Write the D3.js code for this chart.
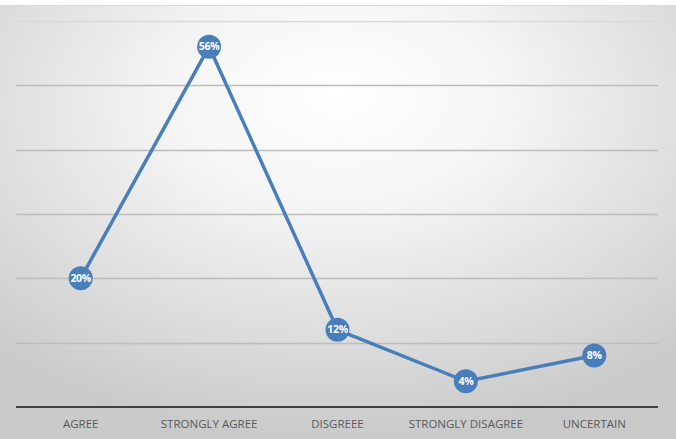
<!DOCTYPE html>
<html><head><meta charset="utf-8">
<script src="https://cdn.jsdelivr.net/npm/d3@7"></script>
<style>body{margin:0;background:#fff}svg{display:block}</style>
</head><body>
<script>
const categories = ["AGREE","STRONGLY AGREE","DISGREEE","STRONGLY DISAGREE","UNCERTAIN"];
const values = [20,56,12,4,8];
const yTicks = [0,10,20,30,40,50,60];

const W=676,H=439;
const svg=d3.select("body").append("svg").attr("width",W).attr("height",H);
const defs=svg.append("defs");
const g=defs.append("radialGradient").attr("id","bg").attr("cx","50%").attr("cy","25%").attr("r","75%")
  .attr("fx","50%").attr("fy","20%");
g.append("stop").attr("offset","0%").attr("stop-color","#ffffff");
g.append("stop").attr("offset","35%").attr("stop-color","#f4f4f4");
g.append("stop").attr("offset","100%").attr("stop-color","#cacaca");
svg.append("rect").attr("x",0).attr("y",5).attr("width",W).attr("height",H-5).attr("fill","url(#bg)");
svg.append("line").attr("x1",0).attr("x2",W).attr("y1",5.5).attr("y2",5.5).attr("stroke","#d9d9d9");

const x=d3.scaleBand().domain(categories).range([16.5,658.5]);
const y=d3.scaleLinear().domain([0,60]).range([407,21]);

svg.append("g").selectAll("line").data(yTicks.slice(1)).join("line")
  .attr("x1",16).attr("x2",658).attr("y1",d=>Math.round(y(d))+0.5).attr("y2",d=>Math.round(y(d))+0.5)
  .attr("stroke",(d,i)=>d===60?"#dadada":"#bdbdbd").attr("stroke-width",1.3);

svg.append("line").attr("x1",16).attr("x2",658).attr("y1",y(0)).attr("y2",y(0))
  .attr("stroke","#404040").attr("stroke-width",2);

const xAxis=d3.axisBottom(x).tickSize(0).tickPadding(13);
const ax=svg.append("g").attr("transform",`translate(0,${y(0)})`).call(xAxis);
ax.select(".domain").remove();
ax.selectAll("text").attr("font-family","'Open Sans', sans-serif").attr("font-size",11.5).attr("fill","#595959");

const cx=d=>x(d)+x.bandwidth()/2;
const pts=categories.map((c,i)=>[cx(c),y(values[i])]);
svg.append("path").attr("d",d3.line()(pts)).attr("fill","none").attr("stroke","#4a7ebb").attr("stroke-width",3.5);
const m=svg.append("g").selectAll("g").data(categories).join("g")
  .attr("transform",(c,i)=>`translate(${cx(c)},${y(values[i])})`);
m.append("circle").attr("r",12).attr("fill","#4a7ebb");
m.append("text").attr("text-anchor","middle").attr("dy","0.35em")
  .attr("font-family","'Open Sans', sans-serif").attr("font-weight","bold").attr("font-size",10.5)
  .attr("fill","#fff").attr("letter-spacing","-0.3").text((c,i)=>values[i]+"%");
</script>
</body></html>
